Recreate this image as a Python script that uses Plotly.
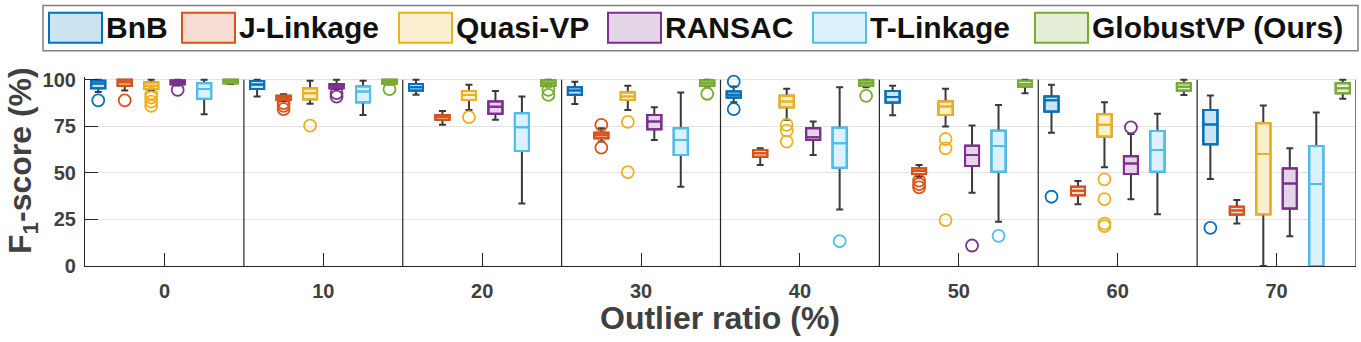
import plotly.graph_objects as go

# ---------------- data ----------------
groups = [0, 10, 20, 30, 40, 50, 60, 70]
methods = ["BnB", "J-Linkage", "Quasi-VP", "RANSAC", "T-Linkage", "GlobustVP (Ours)"]
colors = ["#0072BD", "#D95319", "#EDB120", "#7E2F8E", "#4DBEEE", "#77AC30"]
fills = ["rgba(0,114,189,0.2)", "rgba(217,83,25,0.2)", "rgba(237,177,32,0.2)",
         "rgba(126,47,142,0.2)", "rgba(77,190,238,0.2)", "rgba(119,172,48,0.2)"]

bnb_lo  = [93.5, 91.0, 92.0, 87.0, 88.0, 81.0, 71.6, 46.7]
bnb_q1  = [95.5, 95.0, 94.3, 92.0, 90.5, 87.8, 83.0, 65.4]
bnb_med = [98.0, 97.5, 96.0, 94.3, 92.0, 90.7, 89.0, 76.0]
bnb_q3  = [99.5, 99.3, 97.8, 96.0, 93.7, 94.0, 91.0, 83.8]
bnb_hi  = [100, 100, 100, 99.0, 96.4, 96.8, 97.3, 91.6]
bnb_out = [[89.0], [], [], [], [99.0, 84.2], [], [37.2], [20.5]]

jl_lo  = [94.3, 88.5, 75.8, 66.8, 54.2, 47.9, 33.2, 22.8]
jl_q1  = [96.8, 89.2, 78.5, 68.6, 58.7, 49.4, 38.0, 27.6]
jl_med = [98.7, 90.3, 80.0, 70.2, 60.5, 51.0, 40.4, 29.8]
jl_q3  = [100, 91.4, 81.1, 71.6, 62.3, 52.4, 42.5, 31.8]
jl_hi  = [100, 92.3, 83.3, 74.0, 63.2, 54.2, 45.6, 35.4]
jl_out = [[89.0], [87.5, 86.0, 84.3], [], [75.8, 63.6], [], [45.8, 44.0, 42.2], [], []]

qv_lo  = [94.0, 87.1, 83.8, 83.8, 78.5, 74.9, 53.0, 0.0]
qv_q1  = [95.0, 89.6, 89.2, 89.2, 85.3, 81.1, 69.5, 27.8]
qv_med = [96.8, 92.8, 91.9, 91.0, 88.3, 85.6, 75.8, 60.1]
qv_q3  = [98.6, 95.3, 94.0, 93.2, 91.4, 88.3, 81.5, 76.7]
qv_hi  = [100, 99.5, 97.3, 96.8, 95.2, 95.2, 88.0, 86.2]
qv_out = [[92.5, 90.5, 88.3, 86.0], [75.4], [79.9], [77.4, 50.4], [75.8, 72.7, 66.8],
          [68.2, 63.2, 24.6], [46.5, 35.9, 22.8, 21.4], []]

rs_lo  = [97.0, 95.0, 78.5, 67.7, 59.6, 39.3, 35.9, 16.0]
rs_q1  = [97.6, 95.5, 81.7, 73.4, 67.7, 53.7, 49.4, 30.9]
rs_med = [98.7, 96.8, 85.5, 77.6, 69.1, 59.6, 55.1, 44.3]
rs_q3  = [99.6, 97.8, 88.3, 81.1, 74.0, 64.6, 59.0, 52.4]
rs_hi  = [100, 100, 94.0, 85.3, 77.6, 75.4, 70.9, 63.2]
rs_out = [[94.6], [92.8, 91.0], [], [], [], [11.0], [74.5], []]

tl_lo  = [81.5, 81.1, 33.6, 42.5, 30.3, 23.7, 27.8, 0.0]
tl_q1  = [89.8, 88.0, 61.8, 59.6, 52.8, 50.6, 50.6, 0.0]
tl_med = [95.0, 93.7, 74.5, 67.7, 65.9, 64.5, 62.3, 44.0]
tl_q3  = [98.2, 96.4, 82.0, 74.0, 74.3, 72.7, 72.5, 64.5]
tl_hi  = [100, 99.5, 91.0, 93.2, 96.0, 86.5, 81.7, 82.4]
tl_out = [[], [], [], [], [13.3], [16.2], [], []]

gv_lo  = [97.7, 97.5, 96.4, 96.4, 96.0, 92.8, 91.9, 89.8]
gv_q1  = [98.2, 97.8, 96.8, 96.8, 96.8, 96.4, 94.3, 92.8]
gv_med = [99.5, 98.9, 98.2, 98.2, 98.2, 97.8, 96.2, 95.5]
gv_q3  = [100, 100, 99.6, 99.6, 99.6, 99.5, 98.2, 98.2]
gv_hi  = [100, 100, 100, 100, 100, 100, 100, 100]
gv_out = [[], [95.0], [94.6, 91.9], [92.5], [91.4], [], [], []]

stats = [
    (bnb_lo, bnb_q1, bnb_med, bnb_q3, bnb_hi, bnb_out),
    (jl_lo, jl_q1, jl_med, jl_q3, jl_hi, jl_out),
    (qv_lo, qv_q1, qv_med, qv_q3, qv_hi, qv_out),
    (rs_lo, rs_q1, rs_med, rs_q3, rs_hi, rs_out),
    (tl_lo, tl_q1, tl_med, tl_q3, tl_hi, tl_out),
    (gv_lo, gv_q1, gv_med, gv_q3, gv_hi, gv_out),
]
yticks = [0, 25, 50, 75, 100]

# ---------------- layout constants ----------------
W, H = 1361, 342
ML, MR, MT, MB = 85, 5, 77.2, 76.3
PW, PH = W - ML - MR, H - MT - MB
GSTEP = 10
NM = len(methods)
SPACING = GSTEP / NM
BOXW = 0.88
WHISK = "#3a3a3a"
AXC = "#262626"
TXT = "#404040"
FONT = "Liberation Sans, Arial, Helvetica, sans-serif"


def px(x):
    return (x - ML) / PW


def py(y):
    return (H - MB - y) / PH


fig = go.Figure()
for i, (name, col, fc, st) in enumerate(zip(methods, colors, fills, stats)):
    lo, q1, med, q3, hi, out = st
    xs = [g + (i - (NM - 1) / 2) * SPACING for g in groups]
    # whiskers (dark gray)
    fig.add_trace(go.Box(x=xs, q1=q1, median=med, q3=q3, lowerfence=lo, upperfence=hi,
                         width=BOXW, whiskerwidth=0.5, line=dict(color=WHISK, width=2),
                         fillcolor="rgba(0,0,0,0)", showlegend=False, hoverinfo="skip"))
    # coloured box
    fig.add_trace(go.Box(x=xs, q1=q1, median=med, q3=q3, lowerfence=q1, upperfence=q3,
                         width=BOXW, whiskerwidth=0, line=dict(color=col, width=2),
                         fillcolor="white", showlegend=False, name=name))
    fig.add_trace(go.Box(x=xs, q1=q1, median=med, q3=q3, lowerfence=q1, upperfence=q3,
                         width=BOXW, whiskerwidth=0, line=dict(color=col, width=2),
                         fillcolor=fc, showlegend=False, name=name))
    ox, oy = [], []
    for xv, vals in zip(xs, out):
        for v in vals:
            ox.append(xv)
            oy.append(v)
    fig.add_trace(go.Scatter(x=ox, y=oy, mode="markers", showlegend=False, cliponaxis=False,
                             marker=dict(symbol="circle-open", size=12, color=col,
                                         line=dict(width=1.8, color=col))))

shapes = []
# group separators and right border
bounds = [g + GSTEP / 2 for g in groups]
for b in bounds:
    shapes.append(dict(type="line", xref="x", yref="y", x0=b, x1=b, y0=0, y1=100,
                       line=dict(color=AXC, width=1.2)))

# legend
leg_rect_x = [49, 182, 399, 608, 813, 1035]
leg_rect_w = 53
shapes.append(dict(type="rect", xref="paper", yref="paper", x0=px(43), x1=px(1358),
                   y0=py(51), y1=py(6), line=dict(color="#808080", width=1.5),
                   fillcolor="white"))
annotations = []
for name, col, fc, lx in zip(methods, colors, fills, leg_rect_x):
    shapes.append(dict(type="rect", xref="paper", yref="paper", x0=px(lx), x1=px(lx + leg_rect_w),
                       y0=py(43), y1=py(13), line=dict(color=col, width=2), fillcolor=fc))
    annotations.append(dict(xref="paper", yref="paper", x=px(lx + leg_rect_w + 2), y=py(28),
                            xanchor="left", yanchor="middle", showarrow=False,
                            text="<b>" + name + "</b>",
                            font=dict(family=FONT, size=30, color="#111111")))

annotations.append(dict(xref="paper", yref="paper", x=px(720), y=py(318), xanchor="center",
                        yanchor="middle", showarrow=False, text="<b>Outlier ratio (%)</b>",
                        font=dict(family=FONT, size=32, color=TXT)))
annotations.append(dict(xref="paper", yref="paper", x=px(22), y=py(161), xanchor="center",
                        yanchor="middle", showarrow=False, textangle=-90,
                        text="<b>F<sub>1</sub>-score (%)</b>",
                        font=dict(family=FONT, size=32, color=TXT)))

fig.update_layout(
    width=W, height=H,
    margin=dict(l=ML, r=MR, t=MT, b=MB, pad=0),
    paper_bgcolor="white", plot_bgcolor="white",
    boxmode="overlay", showlegend=False,
    shapes=shapes, annotations=annotations,
    xaxis=dict(range=[groups[0] - GSTEP / 2, groups[-1] + GSTEP / 2], tickmode="array",
               tickvals=groups, ticktext=["<b>%d</b>" % g for g in groups],
               ticks="inside", ticklen=13, tickwidth=1.2, tickcolor=AXC,
               showline=True, linecolor=AXC, linewidth=1.2, showgrid=False, zeroline=False,
               ticklabelstandoff=7,
               tickfont=dict(family=FONT, size=20, color=TXT)),
    yaxis=dict(range=[0, 101.5], tickmode="array", tickvals=yticks,
               ticktext=["<b>%d</b>" % v for v in yticks],
               ticks="inside", ticklen=13, tickwidth=1.2, tickcolor=AXC,
               showline=True, linecolor=AXC, linewidth=1.2, showgrid=True,
               gridcolor="#e3e3e3", gridwidth=1, zeroline=False, ticklabelstandoff=4,
               tickfont=dict(family=FONT, size=20, color=TXT)),
)

fig.write_html("out.html")
